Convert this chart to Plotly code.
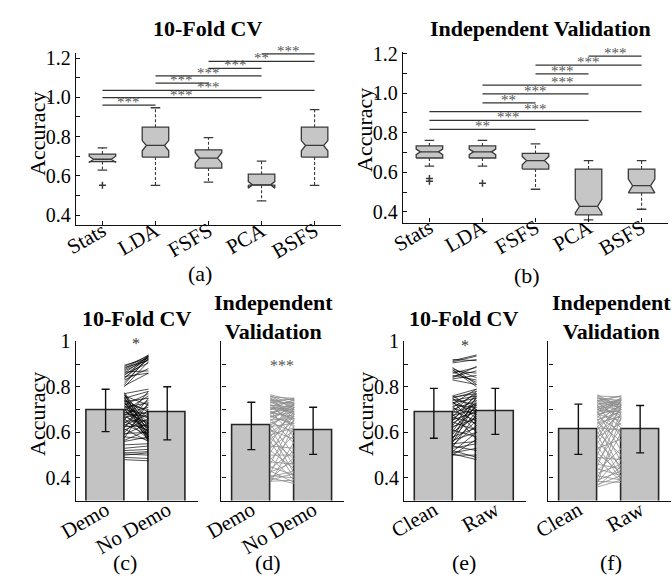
import plotly.graph_objects as go

W, H = 672, 578
SERIF = "Liberation Serif"

# ---------------- data: box plots (a) 10-fold CV, (b) independent validation
methods = ["Stats", "LDA", "FSFS", "PCA", "BSFS"]

cv_upper = [0.743, 0.947, 0.795, 0.675, 0.937]
cv_q3 = [0.711, 0.848, 0.733, 0.609, 0.848]
cv_notch_hi = [0.700, 0.780, 0.718, 0.571, 0.780]
cv_median = [0.685, 0.755, 0.691, 0.555, 0.755]
cv_notch_lo = [0.668, 0.728, 0.665, 0.538, 0.728]
cv_q1 = [0.673, 0.696, 0.640, 0.553, 0.696]
cv_lower = [0.630, 0.552, 0.569, 0.473, 0.552]
cv_outliers = [[0.553], [], [], [], []]

iv_upper = [0.761, 0.761, 0.743, 0.659, 0.659]
iv_q3 = [0.733, 0.733, 0.695, 0.616, 0.616]
iv_notch_hi = [0.717, 0.717, 0.680, 0.463, 0.565]
iv_median = [0.703, 0.703, 0.659, 0.428, 0.532]
iv_notch_lo = [0.689, 0.689, 0.638, 0.395, 0.496]
iv_q1 = [0.672, 0.672, 0.616, 0.385, 0.496]
iv_lower = [0.631, 0.631, 0.514, 0.359, 0.413]
iv_outliers = [[0.568, 0.555], [0.545], [], [], []]

# significance brackets (method index pairs, 1-based), heights and labels
sig_a_from = [1, 1, 1, 2, 2, 3, 3, 4]
sig_a_to = [2, 4, 5, 3, 4, 4, 5, 5]
sig_a_y = [0.960, 0.998, 1.035, 1.072, 1.109, 1.147, 1.183, 1.221]
sig_a_lab = ["***", "***", "***", "***", "***", "***", "**", "***"]

sig_b_from = [1, 1, 1, 2, 2, 2, 3, 3, 4]
sig_b_to = [3, 4, 5, 3, 4, 5, 4, 5, 5]
sig_b_y = [0.817, 0.862, 0.906, 0.951, 0.996, 1.040, 1.097, 1.141, 1.187]
sig_b_lab = ["**", "***", "***", "**", "***", "***", "***", "***", "***"]

# ---------------- data: bar panels
demo_labels = ["Demo", "No Demo"]
clean_labels = ["Clean", "Raw"]

c_mean = [0.696, 0.686]; c_hi = [0.789, 0.800]; c_lo = [0.603, 0.567]
d_mean = [0.629, 0.607]; d_hi = [0.732, 0.710]; d_lo = [0.524, 0.503]
e_mean = [0.686, 0.693]; e_hi = [0.793, 0.793]; e_lo = [0.574, 0.591]
f_mean = [0.615, 0.615]; f_hi = [0.724, 0.718]; f_lo = [0.503, 0.510]

# paired runs (c) 10-fold CV: Demo -> No Demo
demo_cv = [0.895, 0.89, 0.885, 0.88, 0.875, 0.87, 0.865, 0.86, 0.855, 0.85, 0.845, 0.84, 0.835, 0.83,
           0.82, 0.81, 0.805, 0.80,
           0.775, 0.77, 0.77, 0.765, 0.76, 0.76, 0.755, 0.75, 0.75, 0.745, 0.74, 0.74, 0.735, 0.73,
           0.73, 0.725, 0.72, 0.72, 0.715, 0.71, 0.71, 0.705, 0.70, 0.70, 0.695, 0.69, 0.685, 0.68,
           0.68, 0.675, 0.67, 0.665, 0.66, 0.655, 0.65, 0.645, 0.64, 0.635, 0.63, 0.625, 0.62, 0.615,
           0.61, 0.60, 0.595, 0.59, 0.58, 0.575, 0.565, 0.56,
           0.545, 0.53, 0.52, 0.51, 0.505, 0.50, 0.49, 0.48]
nodemo_cv = [0.925, 0.935, 0.915, 0.94, 0.93, 0.92, 0.87, 0.935, 0.905, 0.93, 0.86, 0.92, 0.94, 0.88,
             0.925, 0.935, 0.86, 0.91,
             0.62, 0.58, 0.79, 0.60, 0.66, 0.72, 0.57, 0.64, 0.78, 0.61, 0.69, 0.56, 0.75, 0.63,
             0.59, 0.70, 0.77, 0.58, 0.66, 0.62, 0.73, 0.57, 0.68, 0.60, 0.76, 0.64, 0.71, 0.58,
             0.67, 0.74, 0.62, 0.69, 0.57, 0.78, 0.65, 0.61, 0.72, 0.59, 0.68, 0.63, 0.75, 0.56,
             0.66, 0.70, 0.60, 0.64, 0.57, 0.73, 0.61, 0.58,
             0.55, 0.54, 0.525, 0.515, 0.50, 0.51, 0.485, 0.475]

# (d) independent validation: Demo -> No Demo
demo_iv = [0.765, 0.76, 0.755, 0.75, 0.745, 0.74, 0.735, 0.73, 0.725, 0.72, 0.715, 0.71, 0.705, 0.70,
           0.695, 0.69, 0.685, 0.68, 0.675, 0.67, 0.665, 0.66, 0.655, 0.65, 0.645, 0.64, 0.635, 0.63,
           0.625, 0.62, 0.615, 0.61, 0.60, 0.595, 0.59, 0.58, 0.575, 0.57, 0.56, 0.55, 0.54, 0.53,
           0.52, 0.51, 0.50, 0.49, 0.48, 0.47, 0.46, 0.45, 0.44, 0.43, 0.425, 0.42, 0.41, 0.405,
           0.40, 0.395, 0.39, 0.385, 0.38,
           0.76, 0.75, 0.74, 0.73, 0.72, 0.71, 0.70, 0.69, 0.68, 0.67]
nodemo_iv = [0.74, 0.70, 0.75, 0.66, 0.72, 0.745, 0.68, 0.73, 0.62, 0.71, 0.74, 0.65, 0.69, 0.72,
             0.58, 0.70, 0.67, 0.735, 0.63, 0.69, 0.71, 0.55, 0.66, 0.725, 0.60, 0.68, 0.50, 0.70,
             0.64, 0.45, 0.73, 0.57, 0.67, 0.42, 0.62, 0.69, 0.48, 0.65, 0.40, 0.71, 0.53, 0.61,
             0.44, 0.68, 0.50, 0.39, 0.59, 0.46, 0.66, 0.41, 0.52, 0.38, 0.47, 0.63, 0.40, 0.43,
             0.375, 0.49, 0.42, 0.39, 0.56,
             0.725, 0.71, 0.69, 0.75, 0.68, 0.70, 0.745, 0.66, 0.72, 0.64]

# (e) 10-fold CV: Clean -> Raw
clean_cv = [0.91, 0.915, 0.905, 0.92,
            0.885, 0.88, 0.875, 0.87, 0.865, 0.86, 0.85, 0.845, 0.84, 0.835, 0.83,
            0.76, 0.76, 0.755, 0.75, 0.75, 0.745, 0.74, 0.735, 0.73, 0.73, 0.725, 0.72, 0.715, 0.71,
            0.705, 0.70, 0.695, 0.69, 0.685, 0.68, 0.675, 0.67, 0.665, 0.66, 0.655, 0.65, 0.645,
            0.64, 0.63, 0.625, 0.62, 0.61, 0.605, 0.60, 0.59, 0.58, 0.575, 0.57, 0.565, 0.56, 0.555,
            0.55,
            0.545, 0.54, 0.535, 0.53, 0.52, 0.515, 0.51, 0.505, 0.50, 0.50]
raw_cv = [0.935, 0.94, 0.92, 0.915,
          0.81, 0.84, 0.80, 0.86, 0.82, 0.885, 0.83, 0.87, 0.89, 0.85, 0.81,
          0.79, 0.70, 0.77, 0.66, 0.78, 0.72, 0.76, 0.63, 0.75, 0.69, 0.79, 0.71, 0.60, 0.77,
          0.68, 0.74, 0.65, 0.78, 0.72, 0.57, 0.70, 0.76, 0.64, 0.73, 0.69, 0.77, 0.61,
          0.71, 0.75, 0.66, 0.70, 0.58, 0.74, 0.67, 0.72, 0.62, 0.69, 0.76, 0.60, 0.65, 0.73,
          0.56,
          0.63, 0.52, 0.68, 0.55, 0.49, 0.60, 0.53, 0.48, 0.50, 0.57]

# (f) independent validation: Clean -> Raw
clean_iv = [0.765, 0.76, 0.755, 0.75, 0.745, 0.74, 0.735, 0.73, 0.725, 0.72, 0.715, 0.71, 0.705, 0.70,
            0.695, 0.69, 0.685, 0.68, 0.675, 0.67, 0.665, 0.66, 0.655, 0.65, 0.645, 0.64, 0.635, 0.63,
            0.625, 0.62, 0.61, 0.60, 0.595, 0.59, 0.58, 0.57, 0.56, 0.55, 0.54, 0.53, 0.52, 0.51,
            0.50, 0.49, 0.48, 0.47, 0.46, 0.45, 0.44, 0.43, 0.42, 0.41, 0.40, 0.39, 0.385, 0.38,
            0.37, 0.365, 0.36, 0.375,
            0.76, 0.75, 0.74, 0.73, 0.72, 0.71, 0.70, 0.69, 0.68]
raw_iv = [0.71, 0.755, 0.68, 0.74, 0.63, 0.72, 0.76, 0.66, 0.745, 0.58, 0.70, 0.735, 0.62, 0.75,
          0.69, 0.52, 0.73, 0.65, 0.715, 0.60, 0.755, 0.47, 0.69, 0.72, 0.56, 0.67, 0.74, 0.43,
          0.70, 0.61, 0.725, 0.50, 0.68, 0.40, 0.64, 0.745, 0.45, 0.71, 0.39, 0.57, 0.66, 0.42,
          0.72, 0.48, 0.385, 0.62, 0.44, 0.69, 0.41, 0.53, 0.46, 0.39, 0.60, 0.43, 0.38, 0.50,
          0.41, 0.45, 0.39, 0.67,
          0.70, 0.725, 0.76, 0.71, 0.74, 0.675, 0.73, 0.745, 0.70]

# ---------------- helpers
def fx(p):
    return p / W


def fy(p):
    return 1 - p / H


BOX_FILL = "#c6c6c6"
EDGE = "#3a3a3a"
STAR_FONT = dict(family=SERIF, size=15, color="#555555")

fig = go.Figure()


def add_boxes(xa, ya, upper, q3, nhi, med, nlo, q1, lower, outliers):
    w, wn, cap = 0.25, 0.17, 0.09
    bx, by, mx, my, wx, wy, cx, cy, ox, oy = [], [], [], [], [], [], [], [], [], []
    for i in range(len(med)):
        x = i + 1
        bx += [x - w, x - w, x - wn, x - w, x - w, x + w, x + w, x + wn, x + w, x + w, x - w, None]
        by += [q1[i], nlo[i], med[i], nhi[i], q3[i], q3[i], nhi[i], med[i], nlo[i], q1[i], q1[i], None]
        mx += [x - wn, x + wn, None]
        my += [med[i], med[i], None]
        wx += [x, x, None, x, x, None]
        wy += [q3[i], upper[i], None, q1[i], lower[i], None]
        cx += [x - cap, x + cap, None, x - cap, x + cap, None]
        cy += [upper[i], upper[i], None, lower[i], lower[i], None]
        for o in outliers[i]:
            ox.append(x)
            oy.append(o)
    common = dict(xaxis=xa, yaxis=ya, showlegend=False, hoverinfo="skip")
    fig.add_trace(go.Scatter(x=wx, y=wy, mode="lines", line=dict(color=EDGE, width=1.1, dash="3px,2px"), **common))
    fig.add_trace(go.Scatter(x=cx, y=cy, mode="lines", line=dict(color=EDGE, width=1.3), **common))
    fig.add_trace(go.Scatter(x=bx, y=by, mode="lines", fill="toself", fillcolor=BOX_FILL,
                             line=dict(color=EDGE, width=1.3), **common))
    fig.add_trace(go.Scatter(x=mx, y=my, mode="lines", line=dict(color=EDGE, width=1.3), **common))
    fig.add_trace(go.Scatter(x=ox, y=oy, mode="markers", cliponaxis=False,
                             marker=dict(symbol="cross-thin", size=5, line=dict(color=EDGE, width=1.5)), **common))


def add_sig(xa, ya, xref, yref, froms, tos, ys, labs):
    lx, ly = [], []
    for a, b, y, t in zip(froms, tos, ys, labs):
        lx += [a, b, None]
        ly += [y, y, None]
        fig.add_annotation(x=(a + b) / 2, y=y, xref=xref, yref=yref, text=t, showarrow=False,
                           yanchor="middle", yshift=3, opacity=0.99, font=STAR_FONT)
    fig.add_trace(go.Scatter(x=lx, y=ly, mode="lines", line=dict(color="#333333", width=1.3),
                             xaxis=xa, yaxis=ya, showlegend=False, hoverinfo="skip", cliponaxis=False))


def add_bars(xa, ya, means, hi, lo, left, right, line_color):
    bw = 0.61
    fig.add_trace(go.Bar(x=[1, 2], y=means, width=bw, xaxis=xa, yaxis=ya, showlegend=False,
                         marker=dict(color="#c3c3c3", line=dict(color="#262626", width=1.6)),
                         error_y=dict(type="data", symmetric=False,
                                      array=[h - m for h, m in zip(hi, means)],
                                      arrayminus=[m - l for m, l in zip(means, lo)],
                                      color="#111111", thickness=1.4, width=4)))
    lx, ly = [], []
    for a, b in zip(left, right):
        lx += [1 + bw / 2, 2 - bw / 2, None]
        ly += [a, b, None]
    fig.add_trace(go.Scatter(x=lx, y=ly, mode="lines", line=dict(color=line_color, width=0.8),
                             xaxis=xa, yaxis=ya, showlegend=False, hoverinfo="skip"))


add_boxes("x", "y", cv_upper, cv_q3, cv_notch_hi, cv_median, cv_notch_lo, cv_q1, cv_lower, cv_outliers)
add_boxes("x2", "y2", iv_upper, iv_q3, iv_notch_hi, iv_median, iv_notch_lo, iv_q1, iv_lower, iv_outliers)
add_sig("x", "y", "x", "y", sig_a_from, sig_a_to, sig_a_y, sig_a_lab)
add_sig("x2", "y2", "x2", "y2", sig_b_from, sig_b_to, sig_b_y, sig_b_lab)

add_bars("x3", "y3", c_mean, c_hi, c_lo, demo_cv, nodemo_cv, "rgba(0,0,0,0.85)")
add_bars("x4", "y4", d_mean, d_hi, d_lo, demo_iv, nodemo_iv, "#8c8c8c")
add_bars("x5", "y5", e_mean, e_hi, e_lo, clean_cv, raw_cv, "rgba(0,0,0,0.85)")
add_bars("x6", "y6", f_mean, f_hi, f_lo, clean_iv, raw_iv, "#8c8c8c")

# ---------------- axes
tickfont = dict(family=SERIF, size=20, color="black")
xtickfont = dict(family=SERIF, size=21, color="black")
base = dict(showline=True, linecolor="#111111", linewidth=1.3, ticks="inside", ticklen=4,
            tickcolor="#111111", tickwidth=1, showgrid=False, zeroline=False, fixedrange=True)

top_vals = [round(0.4 + 0.1 * k, 1) for k in range(9)]
top_text = ["0.4", "", "0.6", "", "0.8", "", "1.0", "", "1.2"]
bot_vals = [round(0.4 + 0.1 * k, 1) for k in range(7)]
bot_text = ["0.4", "", "0.6", "", "0.8", "", "1"]

layout = dict(width=W, height=H, margin=dict(l=0, r=0, t=0, b=0), paper_bgcolor="white",
              plot_bgcolor="white", showlegend=False, bargap=0)

# (a)
layout["xaxis"] = dict(base, domain=[fx(59.5), fx(332)], range=[0.5, 5.5], tickvals=[1, 2, 3, 4, 5],
                       ticktext=methods, tickangle=-30, tickfont=xtickfont, anchor="y",
                       ticklabelstandoff=-16)
layout["yaxis"] = dict(base, domain=[fy(219), fy(43)], range=[0.348, 1.225], tickvals=top_vals,
                       ticktext=top_text, tickfont=tickfont, anchor="x")
# (b)
layout["xaxis2"] = dict(base, domain=[fx(395.5), fx(668)], range=[0.5, 5.5], tickvals=[1, 2, 3, 4, 5],
                        ticktext=methods, tickangle=-30, tickfont=xtickfont, anchor="y2",
                        ticklabelstandoff=-16)
layout["yaxis2"] = dict(base, domain=[fy(216), fy(42)], range=[0.346, 1.207], tickvals=top_vals,
                        ticktext=top_text, tickfont=tickfont, anchor="x2")

bottom_x = [(59.3, 185, demo_labels), (209, 335, demo_labels), (396.7, 522, clean_labels), (545, 671, clean_labels)]
for k, (l, r, labs) in enumerate(bottom_x):
    n = k + 3
    layout[f"xaxis{n}"] = dict(base, ticks="", domain=[fx(l), fx(r)], range=[0.515, 2.5], tickvals=[1, 2],
                               ticktext=labs, tickangle=-30, tickfont=xtickfont, anchor=f"y{n}",
                               ticklabelstandoff=-12)
    show = n in (3, 5)
    layout[f"yaxis{n}"] = dict(base, domain=[fy(500), fy(337.3)], range=[0.3, 1.0], tickvals=bot_vals,
                               ticktext=bot_text, showticklabels=show, tickfont=tickfont, anchor=f"x{n}")

fig.update_layout(**layout)

# ---------------- text annotations
def note(text, x, y, size=20, bold=False, angle=0, color="black"):
    fig.add_annotation(text=f"<b>{text}</b>" if bold else text, x=fx(x), y=fy(y), xref="paper", yref="paper",
                       showarrow=False, textangle=angle, xanchor="center", yanchor="middle",
                       font=dict(family=SERIF, size=size, color=color))

note("10-Fold CV", 195, 18, size=22, bold=True)
note("Independent Validation", 537, 18, size=22, bold=True)
note("10-Fold CV", 122, 314, size=22, bold=True)
note("Independent<br>Validation", 263, 312, size=22, bold=True)
note("10-Fold CV", 458, 314, size=22, bold=True)
note("Independent<br>Validation", 610, 312, size=22, bold=True)

for x, y in [(20, 125), (356, 121), (20, 411), (357, 411)]:
    note("Accuracy", x, y, size=22, angle=-90)

for t, x, y in [("(a)", 187, 268), ("(b)", 523, 270), ("(c)", 110, 563), ("(d)", 257, 563),
                ("(e)", 458, 563), ("(f)", 609, 563)]:
    note(t, x, y, size=22)

# stars in bar panels
fig.add_annotation(x=1.5, y=0.978, xref="x3", yref="y3", text="*", showarrow=False, yshift=3, opacity=0.99,
                   font=dict(family=SERIF, size=16, color="#333333"))
fig.add_annotation(x=1.5, y=0.882, xref="x4", yref="y4", text="***", showarrow=False, yshift=3, opacity=0.99,
                   font=dict(family=SERIF, size=16, color="#555555"))
fig.add_annotation(x=1.5, y=0.968, xref="x5", yref="y5", text="*", showarrow=False, yshift=3, opacity=0.99,
                   font=dict(family=SERIF, size=16, color="#333333"))

fig.write_html("out.html")
